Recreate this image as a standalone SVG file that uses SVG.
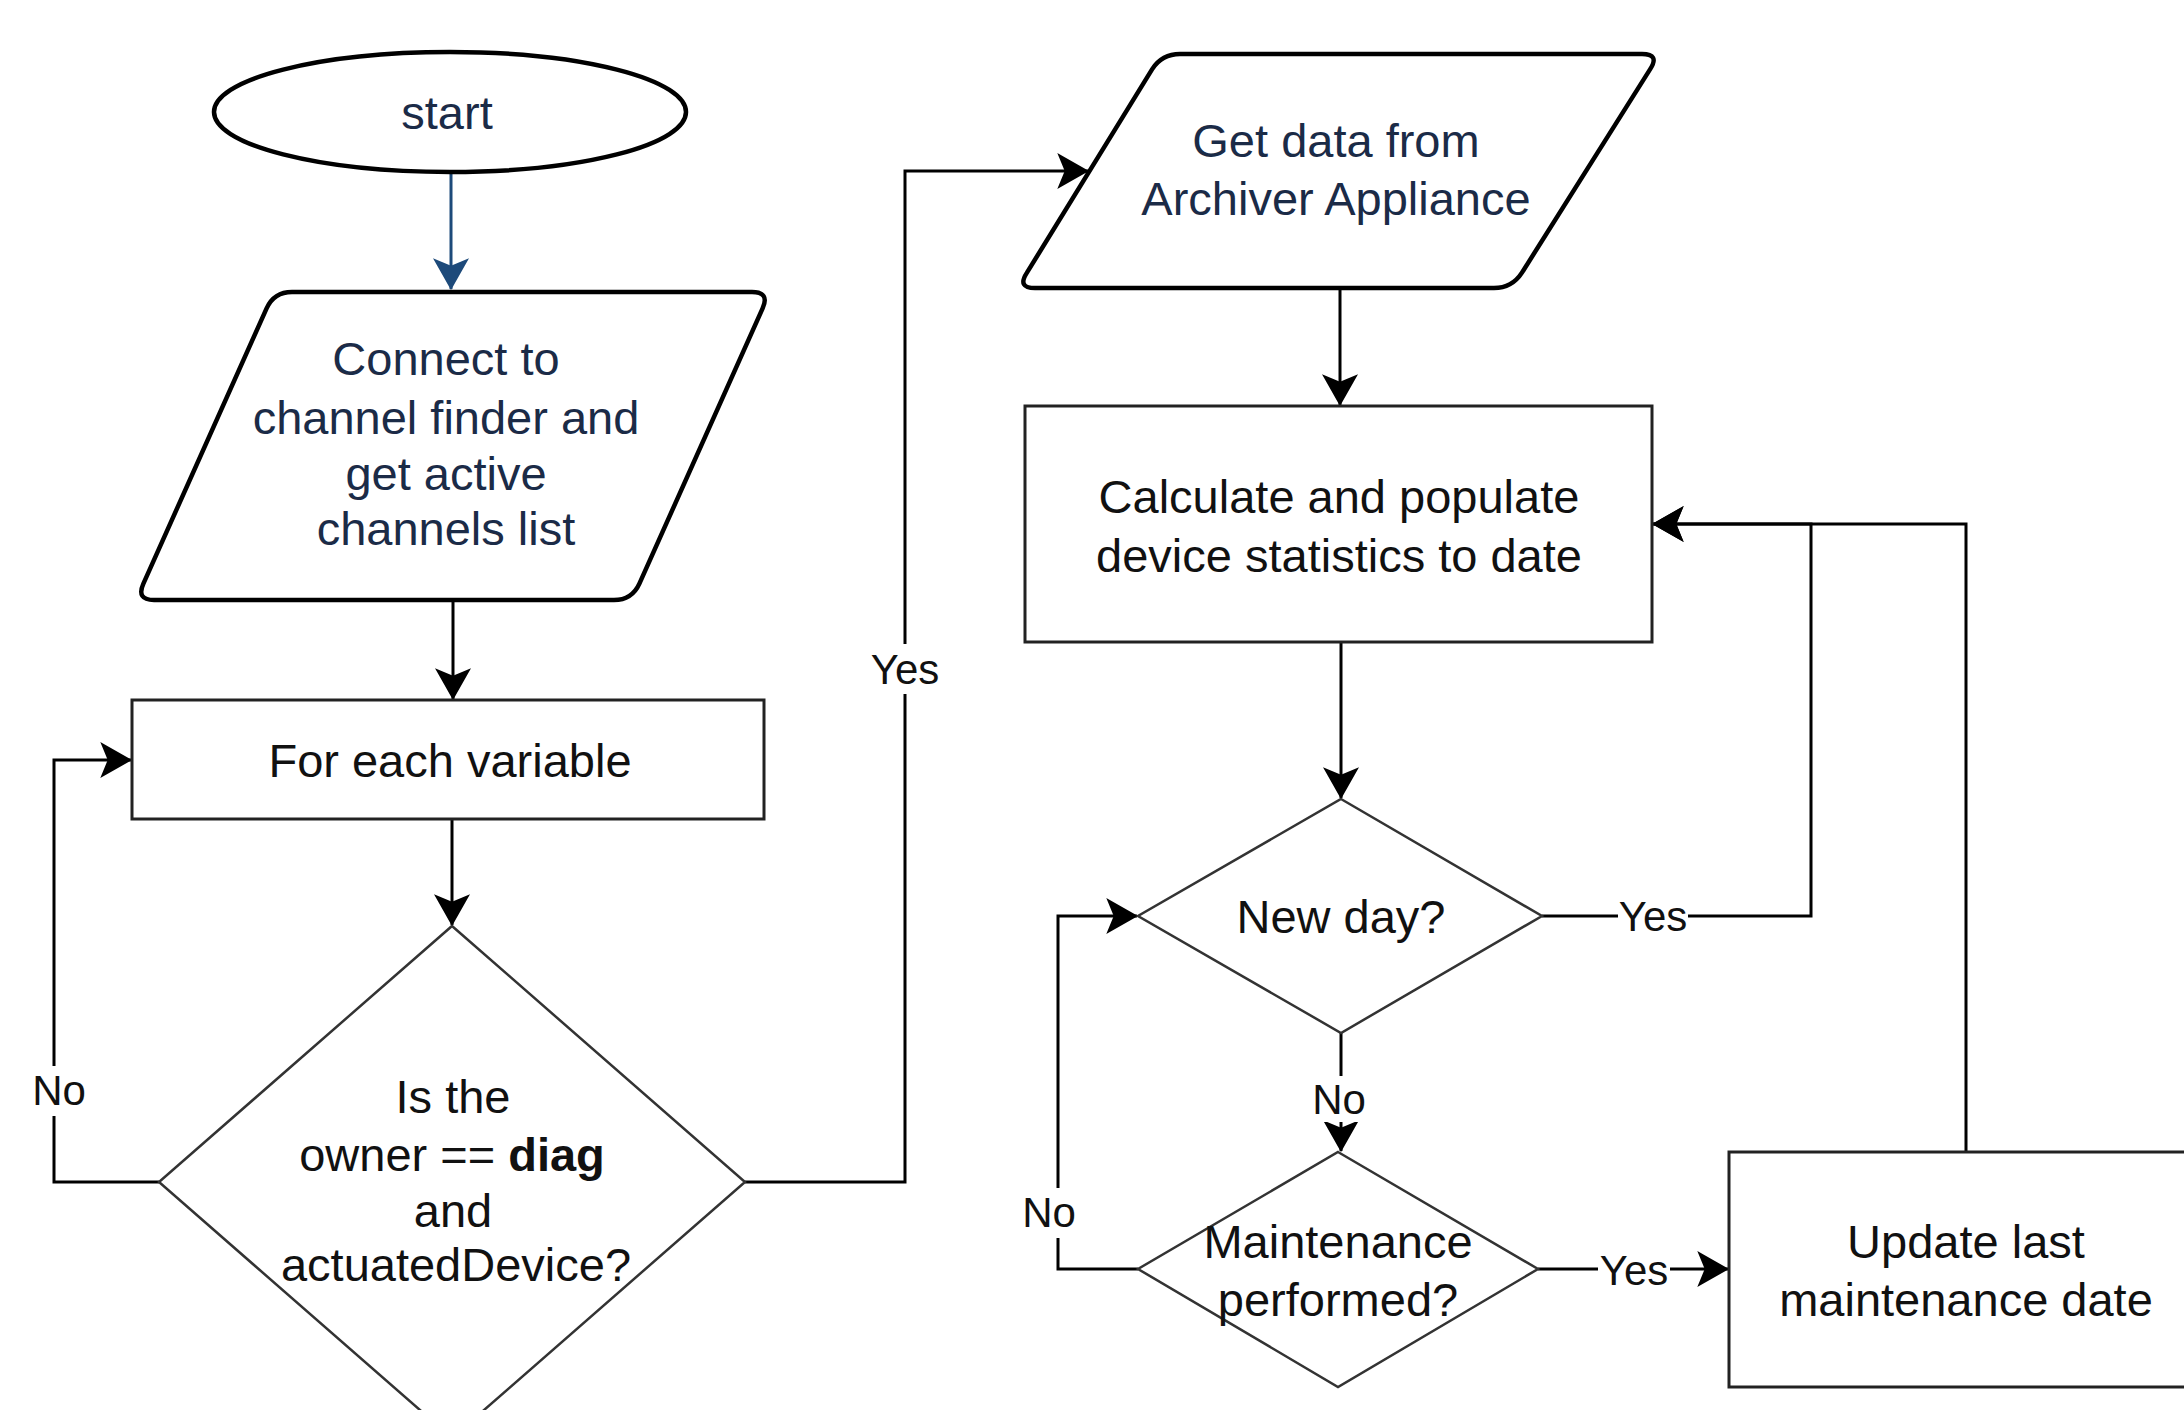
<svg xmlns="http://www.w3.org/2000/svg" width="2184" height="1410" viewBox="0 0 2184 1410">
<style>
  .node-text{font-family:"Liberation Sans",Arial,sans-serif;font-size:47px;fill:#111;text-anchor:middle}
  .io-text{font-family:"Liberation Sans",Arial,sans-serif;font-size:47px;fill:#1b2b47;text-anchor:middle}
  .lbl{font-family:"Liberation Sans",Arial,sans-serif;font-size:42px;fill:#111;text-anchor:middle}
  .term{fill:#fff;stroke:#000;stroke-width:4.5}
  .box{fill:#fff;stroke:#222;stroke-width:3}
  .dec{fill:#fff;stroke:#333;stroke-width:2.5}
  .edge{fill:none;stroke:#000;stroke-width:3}
  .edge-blue{fill:none;stroke:#1d4a7a;stroke-width:3}
  .lblbg{fill:#fff}
</style>
<defs>
  <marker id="arr" markerUnits="userSpaceOnUse" markerWidth="32" markerHeight="36" viewBox="0 0 30 34" refX="29" refY="17" orient="auto">
    <path d="M30,17 L0,0 L7,17 L0,34 Z" fill="#000"/>
  </marker>
  <marker id="arrBlue" markerUnits="userSpaceOnUse" markerWidth="32" markerHeight="36" viewBox="0 0 30 34" refX="29" refY="17" orient="auto">
    <path d="M30,17 L0,0 L7,17 L0,34 Z" fill="#1d4a7a"/>
  </marker>
</defs>
<rect x="0" y="0" width="2184" height="1410" fill="#fff"/>

<g id="connectors">
  <path class="edge-blue" d="M451,172 L451,289" marker-end="url(#arrBlue)"/>
  <path class="edge" d="M453,600 L453,699" marker-end="url(#arr)"/>
  <path class="edge" d="M452,819 L452,925" marker-end="url(#arr)"/>
  <path class="edge" d="M159,1182 L54,1182 L54,760 L131,760" marker-end="url(#arr)"/>
  <path class="edge" d="M745,1182 L905,1182 L905,171 L1088,171" marker-end="url(#arr)"/>
  <path class="edge" d="M1340,288 L1340,405" marker-end="url(#arr)"/>
  <path class="edge" d="M1341,642 L1341,798" marker-end="url(#arr)"/>
  <path class="edge" d="M1542,916 L1811,916 L1811,524 L1653,524" marker-end="url(#arr)"/>
  <path class="edge" d="M1966,1152 L1966,524 L1653,524" marker-end="url(#arr)"/>
  <path class="edge" d="M1341,1033 L1341,1151" marker-end="url(#arr)"/>
  <path class="edge" d="M1138,1269 L1058,1269 L1058,916 L1137,916" marker-end="url(#arr)"/>
  <path class="edge" d="M1538,1269 L1728,1269" marker-end="url(#arr)"/>
  <g id="edge-labels">
    <rect class="lblbg" x="36" y="1066" width="46" height="50"/>
    <text class="lbl" x="59" y="1105">No</text>
    <rect class="lblbg" x="870" y="644" width="70" height="50"/>
    <text class="lbl" x="905" y="684">Yes</text>
    <rect class="lblbg" x="1618" y="892" width="70" height="48"/>
    <text class="lbl" x="1653" y="931">Yes</text>
    <rect class="lblbg" x="1316" y="1076" width="46" height="46"/>
    <text class="lbl" x="1339" y="1114">No</text>
    <rect class="lblbg" x="1026" y="1188" width="46" height="50"/>
    <text class="lbl" x="1049" y="1227">No</text>
    <rect class="lblbg" x="1598" y="1246" width="72" height="46"/>
    <text class="lbl" x="1634" y="1285">Yes</text>
  </g>
</g>

<g id="start">
  <ellipse class="term" cx="450" cy="112" rx="236" ry="60"/>
  <text class="io-text" x="447" y="129">start</text>
</g>

<g id="connect">
  <path class="term" d="M292,292 L752,292 Q770,292 762.6,308.4 L639.4,583.6 Q632,600 614,600 L154,600 Q136,600 143.4,583.6 L266.6,308.4 Q274,292 292,292 Z"/>
  <text class="io-text" x="446" y="375">Connect to</text>
  <text class="io-text" x="446" y="434">channel finder and</text>
  <text class="io-text" x="446" y="490">get active</text>
  <text class="io-text" x="446" y="545">channels list</text>
</g>

<g id="foreach">
  <rect class="box" x="132" y="700" width="632" height="119"/>
  <text class="node-text" x="450" y="777">For each variable</text>
</g>

<g id="owner-check">
  <polygon class="dec" points="452,926 745,1182 452,1438 159,1182"/>
  <text class="node-text" x="453" y="1113">Is the</text>
  <text class="node-text" x="452" y="1171">owner == <tspan font-weight="bold">diag</tspan></text>
  <text class="node-text" x="453" y="1227">and</text>
  <text class="node-text" x="456" y="1281">actuatedDevice?</text>
</g>

<g id="getdata">
  <path class="term" d="M1180,54 L1642,54 Q1660,54 1650.2,69.1 L1521.8,272.9 Q1512,288 1494,288 L1035,288 Q1017,288 1026.8,272.9 L1152.2,69.1 Q1162,54 1180,54 Z"/>
  <text class="io-text" x="1336" y="157">Get data from</text>
  <text class="io-text" x="1336" y="215">Archiver Appliance</text>
</g>

<g id="calculate">
  <rect class="box" x="1025" y="406" width="627" height="236"/>
  <text class="node-text" x="1339" y="513">Calculate and populate</text>
  <text class="node-text" x="1339" y="572">device statistics to date</text>
</g>

<g id="newday">
  <polygon class="dec" points="1341,799 1542,916 1341,1033 1138,916"/>
  <text class="node-text" x="1341" y="933">New day?</text>
</g>

<g id="maintenance">
  <polygon class="dec" points="1338,1152 1538,1269 1338,1387 1138,1269"/>
  <text class="node-text" x="1338" y="1258">Maintenance</text>
  <text class="node-text" x="1338" y="1316">performed?</text>
</g>

<g id="update">
  <rect class="box" x="1729" y="1152" width="475" height="235"/>
  <text class="node-text" x="1966" y="1258">Update last</text>
  <text class="node-text" x="1966" y="1316">maintenance date</text>
</g>
</svg>
